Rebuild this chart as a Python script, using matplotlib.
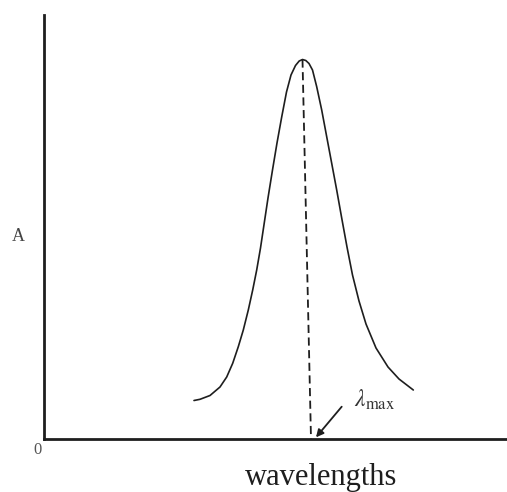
import numpy as np
import matplotlib
matplotlib.use("Agg")
import matplotlib.pyplot as plt

plt.rcParams['mathtext.fontset'] = 'stix'

# absorption band (arbitrary units)
wl_left = [150, 156, 166, 176, 182.7, 188.7, 194.3, 199.3, 204.3, 208.7, 212.7,
           216.5, 219.8, 224, 228.5, 233, 237.7, 242.5, 247, 251.5, 255.2, 258.5]
abs_left = [38.5, 39.7, 43.5, 52, 62, 75.7, 92.3, 109, 129, 149, 169,
            191, 213, 241, 269, 296, 322, 347, 364, 373.5, 378, 379.5]
wl_right = [261.8, 265, 268.5, 272.7, 277.7, 282.7, 287.7, 292.7, 297.7, 303,
            308.5, 315, 322, 332, 344, 355, 369.3]
abs_right = [378.5, 375.5, 369, 352.3, 329, 302.3, 275.7, 249, 221, 192,
             164, 138, 115, 91, 72, 60, 49]

wavelength = np.array(wl_left + wl_right)
absorbance = np.array(abs_left + abs_right)

# dashed drop line from the peak to lambda max
drop_x = [258.5, 267]
drop_y = [379.5, 0]

# arrow pointing at lambda max (tail, tip)
arrow_tail = (297.7, 32.3)
arrow_tip = (272, 1.7)

fig = plt.figure(figsize=(5.07, 4.92), dpi=100)
ax = fig.add_axes([44/507, 53/492, 463/507, 424/492])
ax.set_xlim(0, 463)
ax.set_ylim(0, 424)

ink = '#1e1e1e'
ax.plot(wavelength, absorbance, color=ink, lw=1.2,
        solid_capstyle='round', solid_joinstyle='round')
ax.plot(drop_x, drop_y, color=ink, lw=1.3, dashes=(4.5, 2.5))

ax.annotate('', xy=arrow_tip, xytext=arrow_tail,
            arrowprops=dict(arrowstyle='-|>', color=ink, lw=1.3,
                            mutation_scale=11, shrinkA=0, shrinkB=0))
ax.text(310, 32, r'$\lambda_{\mathrm{max}}$', fontsize=17, color='#333333',
        ha='left', va='baseline')

for side in ['top', 'right']:
    ax.spines[side].set_visible(False)
for side in ['left', 'bottom']:
    ax.spines[side].set_linewidth(2.0)
    ax.spines[side].set_color(ink)
ax.set_xticks([])
ax.set_yticks([])

fig.text(18/507, 1 - 236/492, 'A', family='Liberation Serif', fontsize=13,
         color='#444444', ha='center', va='center')
fig.text(37/507, 1 - 450/492, '0', family='Liberation Serif', fontsize=12,
         color='#555555', ha='center', va='center')
fig.text(321/507, 7/492, 'wavelengths', family='Liberation Serif',
         fontsize=22, color=ink, ha='center', va='baseline')

fig.savefig('out.png', dpi=100, facecolor='white')
